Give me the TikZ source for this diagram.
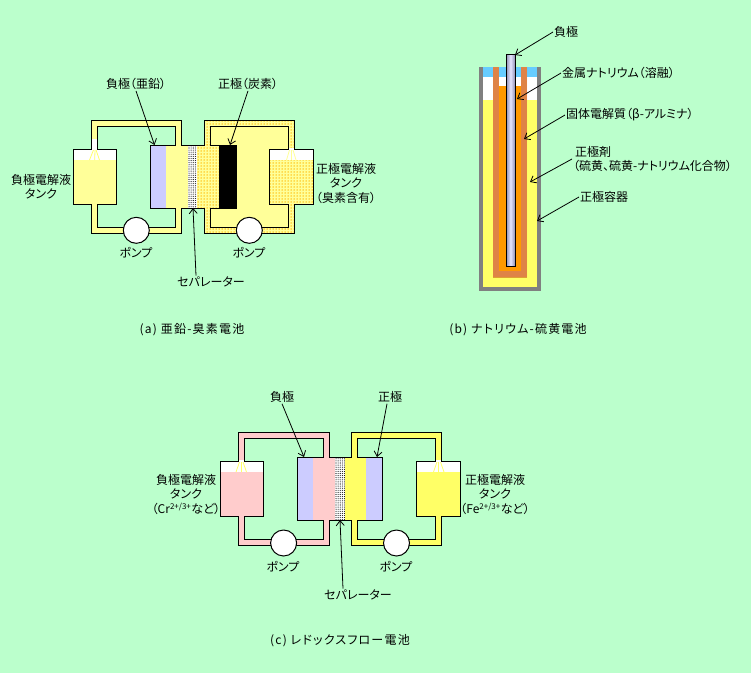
\documentclass[tikz,border=0pt]{standalone}
\usepackage{fontspec}
\setmainfont[RawFeature={+palt}]{Noto Sans CJK JP}
\usetikzlibrary{arrows.meta,patterns.meta}
\definecolor{bgcol}{HTML}{BBFFCC}
\definecolor{pipey}{HTML}{FFFF99}
\definecolor{pipeb}{HTML}{FFFF66}
\definecolor{pipep}{HTML}{FFCCCC}
\definecolor{elblue}{HTML}{CCCCFF}
\definecolor{naorange}{HTML}{FF9900}
\definecolor{nablue}{HTML}{66CCFF}
\definecolor{dotorange}{HTML}{FFB800}
\definecolor{dotbrown}{HTML}{C04000}
\tikzset{
  txt/.style={inner sep=1pt,align=center,font={\fontsize{12}{14.5}\selectfont}},
  captxt/.style={inner sep=1pt,font={\fontsize{12}{14.5}\selectfont\addfontfeature{LetterSpace=10}}},
  leader/.style={line width=.8pt,-{Straight Barb[length=5pt,width=8pt]}},
  pump/.style={shape=circle,draw=black,fill=white,line width=1pt,minimum size=26pt,inner sep=0pt},
  wall/.style={draw=black,line width=1pt},
  dotted yellow/.style={preaction={fill=pipey},pattern={Dots[radius=.75pt,distance=3pt]},pattern color=dotorange},
  sep dots/.style={preaction={fill=white},pattern={Dots[radius=.55pt,distance=2.1pt]},pattern color=black},
  beta dots/.style={preaction={fill=orange!45},pattern={Dots[radius=.8pt,distance=2pt]},pattern color=dotbrown},
  drip/.style={draw=pipeb,line width=.8pt}
}
\begin{document}
\begin{tikzpicture}[x=1pt,y=-1pt]
\useasboundingbox (0,0) rectangle (751,673);
\fill[bgcol] (0,0) rectangle (751,673);
\draw[wall,fill=pipey,even odd rule] (91.7,120.3) rectangle (181.7,233.3) (97,126.3) rectangle (175.7,227.3);
\draw[wall,dotted yellow,even odd rule] (204.3,120.3) rectangle (294.3,233.3) (210.3,126.3) rectangle (288.3,227.3);
\fill[white] (92.2,139) rectangle (96.5,150);
\draw[wall,fill=white] (73.3,149.3) rectangle (116.3,204.3);
\fill[pipey] (73.8,160) rectangle (115.8,203.8);
\fill[white] (92.2,148) rectangle (96.5,151);
\fill[pipey] (92.2,203) rectangle (96.5,205.5);
\draw[drip] (93.5,150) -- (89.5,160);
\draw[drip] (95,150) -- (94.7,160);
\draw[drip] (96,150) -- (99.5,160);
\draw[wall,fill=white] (269.7,149.3) rectangle (313.7,204.3);
\fill[dotted yellow] (270.2,160) rectangle (313.2,203.8);
\fill[white] (288.8,148) rectangle (293.8,151);
\fill[dotted yellow] (288.8,203) rectangle (293.8,205.5);
\draw[drip,draw=pipey] (289.5,150) -- (286.5,160);
\draw[drip,draw=pipey] (291,150) -- (291,160);
\draw[drip,draw=pipey] (293,150) -- (296,160);
\fill[elblue] (150.3,145.3) rectangle (166,208);
\fill[pipey] (166,145.3) rectangle (188,208);
\fill[sep dots] (188,145.3) rectangle (197,208);
\fill[dotted yellow] (197,145.3) rectangle (219,208);
\fill[black] (219,145.3) rectangle (236,208);
\draw[wall] (150.3,145.3) rectangle (236,208);
\fill[pipey] (176.2,144.5) rectangle (181.2,146);
\fill[pipey] (176.2,207.3) rectangle (181.2,208.8);
\fill[dotted yellow] (204.8,144.5) rectangle (209.8,146);
\fill[dotted yellow] (204.8,207.3) rectangle (209.8,208.8);
\node (pa1) at (136.3,230.3) [pump] {};
\node (pa2) at (249.3,230.3) [pump] {};
\node (la1) at (136,84) [txt] {負極（亜鉛）};
\node (la2) at (248,84) [txt] {正極（炭素）};
\node (la3) at (41,186.5) [txt] {負極電解液\\タンク};
\node (la4) at (346,183.5) [txt] {正極電解液\\タンク\\（臭素含有）};
\node (la5) at (136,253) [txt] {ポンプ};
\node (la6) at (249,253) [txt] {ポンプ};
\node (la7) at (211,282) [txt] {セパレーター};
\node (la8) at (192,330) [captxt] {(a) 亜鉛-臭素電池};
\coordinate (ha1) at (154.5,145);
\coordinate (ha2) at (230,145);
\coordinate (ha3) at (193,208);
\draw[leader] (la1.south) -- (ha1);
\draw[leader] (la2.south) -- (ha2);
\draw[leader] (la7.north) ++(-15,0) -- (ha3);
\fill[gray] (479,67) rectangle (541,291);
\fill[pipeb] (483,100) rectangle (537,287);
\fill[white] (483,77) rectangle (537,100);
\fill[nablue] (483,67) rectangle (537,77);
\fill[beta dots] (493,67) rectangle (527,277);
\fill[nablue] (499,67) rectangle (521,77);
\fill[white] (499,77) rectangle (521,86);
\fill[naorange] (499,86) rectangle (521,271);
\draw[wall,left color=elblue!70!black,right color=elblue!70!black,middle color=elblue!50!white] (506,54) rectangle (515,266.7);
\node (lb1) at (553,32) [txt,anchor=west] {負極};
\node (lb2) at (561,73) [txt,anchor=west] {金属ナトリウム（溶融）};
\node (lb3) at (565,115) [txt,anchor=west] {固体電解質（β-アルミナ）};
\node (lb4) at (572,159) [txt,anchor=west,align=left] {\,正極剤\\（硫黄、硫黄-ナトリウム化合物）};
\node (lb5) at (579,197) [txt,anchor=west] {正極容器};
\node (lb6) at (518,330) [captxt] {(b) ナトリウム-硫黄電池};
\coordinate (hb1) at (515,55);
\coordinate (hb2) at (517,99);
\coordinate (hb3) at (524,139);
\coordinate (hb4) at (530,182);
\coordinate (hb5) at (537,221);
\draw[leader] (lb1.west) -- (hb1);
\draw[leader] (lb2.west) -- (hb2);
\draw[leader] (lb3.west) -- (hb3);
\draw[leader] (lb4.west) -- (hb4);
\draw[leader] (lb5.west) -- (hb5);
\draw[wall,fill=pipep,even odd rule] (238.3,432.3) rectangle (329.3,545.3) (244.3,438.3) rectangle (323.3,539.3);
\draw[wall,fill=pipeb,even odd rule] (351.3,432.3) rectangle (441.7,545.3) (357.3,438.3) rectangle (435.7,539.3);
\draw[wall,fill=white] (220.3,461.3) rectangle (263.7,516.3);
\fill[pipep] (220.8,472) rectangle (263.2,515.8);
\fill[white] (238.8,460) rectangle (243.8,463);
\fill[pipep] (238.8,515) rectangle (243.8,517.5);
\draw[drip] (239.5,462) -- (236,472);
\draw[drip] (241.3,462) -- (241.3,472);
\draw[drip] (243,462) -- (246.5,472);
\draw[wall,fill=white] (416.3,461.3) rectangle (460.7,516.3);
\fill[pipeb] (416.8,472) rectangle (460.2,515.8);
\fill[white] (436.2,460) rectangle (441.2,463);
\fill[pipeb] (436.2,515) rectangle (441.2,517.5);
\draw[drip] (437,462) -- (433.5,472);
\draw[drip] (438.7,462) -- (438.7,472);
\draw[drip] (440.5,462) -- (444,472);
\fill[elblue] (297.3,457.3) rectangle (313,520);
\fill[pipep] (313,457.3) rectangle (335,520);
\fill[sep dots] (335,457.3) rectangle (345,520);
\fill[pipeb] (345,457.3) rectangle (366,520);
\fill[elblue] (366,457.3) rectangle (382.7,520);
\draw[wall] (297.3,457.3) rectangle (382.7,520);
\fill[pipep] (323.8,456.5) rectangle (328.8,458);
\fill[pipep] (323.8,519.3) rectangle (328.8,520.8);
\fill[pipeb] (351.8,456.5) rectangle (356.8,458);
\fill[pipeb] (351.8,519.3) rectangle (356.8,520.8);
\node (pc1) at (283.6,543) [pump] {};
\node (pc2) at (396.5,543) [pump] {};
\node (lc1) at (282,397) [txt] {負極};
\node (lc2) at (390,397) [txt] {正極};
\node (lc3) at (186,494.5) [txt] {負極電解液\\タンク\\（Cr\textsuperscript{2+/3+}など）};
\node (lc4) at (495,494.5) [txt] {正極電解液\\タンク\\（Fe\textsuperscript{2+/3+}など）};
\node (lc5) at (283,567) [txt] {ポンプ};
\node (lc6) at (396,567) [txt] {ポンプ};
\node (lc7) at (358,595) [txt] {セパレーター};
\node (lc8) at (340,641) [captxt] {(c) レドックスフロー電池};
\coordinate (hc1) at (304,457);
\coordinate (hc2) at (377,457);
\coordinate (hc3) at (340,520);
\draw[leader] (lc1.south) -- (hc1);
\draw[leader] (lc2.south) ++(-3,0) -- (hc2);
\draw[leader] (lc7.north) ++(-15,0) -- (hc3);
\end{tikzpicture}
\end{document}
